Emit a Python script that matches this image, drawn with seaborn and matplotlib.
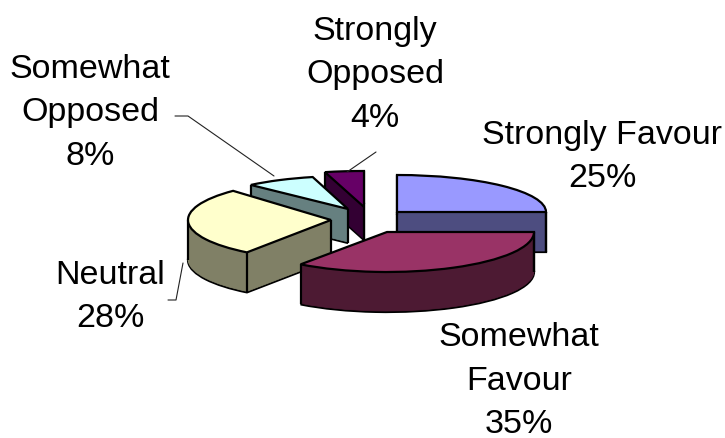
import matplotlib
matplotlib.use('Agg')
import matplotlib.pyplot as plt
from matplotlib.patches import Wedge
from matplotlib.transforms import Affine2D
import numpy as np
import seaborn as sns

categories = ['Strongly Favour', 'Somewhat\nFavour', 'Neutral', 'Somewhat\nOpposed', 'Strongly\nOpposed']
values = [25, 35, 28, 8, 4]
colors = ['#9999FF', '#993366', '#FFFFCC', '#CCFFFF', '#660066']

# ellipse of each slice in picture pixels: cx, cy, rx, ry
shapes = [(397, 212, 149, 37), (387, 232, 147, 40), (331, 220, 143, 40), (348, 209, 142, 33), (364, 207, 157, 36)]
depths = [40, 40, 40, 34, 33]
label_pos = [(602, 157), (519, 381), (110, 297), (90, 113), (375, 75)]
draw_order = [0, 4, 3, 2, 1]

sns.set_theme(style='white')
plt.rcParams['font.family'] = ['Liberation Sans', 'DejaVu Sans']

fig = plt.figure(figsize=(7.25, 4.38), dpi=100)
ax = fig.add_axes([0, 0, 1, 1])

palette = sns.color_palette(colors)
wedges, _ = ax.pie(values, colors=palette, startangle=90, counterclock=False,
                   wedgeprops={'edgecolor': 'black', 'linewidth': 1.6})
ax.set_aspect('auto')
ax.set_xlim(0, 725)
ax.set_ylim(438, 0)
ax.axis('off')

z = 1
for i in draw_order:
    w = wedges[i]
    cx, cy, rx, ry = shapes[i]
    depth = depths[i]
    side = tuple(c * 0.5 for c in palette[i])

    # side of the slice: same wedge stacked downwards
    for dy in range(depth, 0, -1):
        tr = Affine2D().scale(rx, -ry).translate(cx, cy + dy) + ax.transData
        edge = 'black' if dy == depth else side
        lw = 1.6 if dy == depth else 0.5
        ax.add_patch(Wedge((0, 0), 1, w.theta1, w.theta2, facecolor=side, edgecolor=edge,
                           linewidth=lw, transform=tr, zorder=z))
        z += 1

    # upright edges at the corners and outer tangents, back left corners stay hidden
    xs = [cx]
    ys = [cy]
    for a in [w.theta1, w.theta2, -180, 0]:
        if not w.theta1 <= a <= w.theta2:
            continue
        c, s = np.cos(np.radians(a)), np.sin(np.radians(a))
        if a == w.theta1 and c < -0.01 and s > 0:
            continue
        xs.append(cx + rx * c)
        ys.append(cy - ry * s)
    for x, y in zip(xs, ys):
        ax.plot([x, x], [y, y + depth], color='black', lw=1.6, zorder=z, solid_capstyle='butt')
    z += 1

    w.set_transform(Affine2D().scale(rx, -ry).translate(cx, cy) + ax.transData)
    w.set_zorder(z)
    z += 1

# leader lines
ax.plot([175, 188, 274], [116, 116, 176], color='#222222', lw=0.8, zorder=z)
ax.plot([376, 347], [152, 172], color='#222222', lw=0.8, zorder=z)
ax.plot([183, 176, 168], [263, 300, 300], color='#222222', lw=0.8, zorder=z)

for name, v, (x, y) in zip(categories, values, label_pos):
    ax.text(x, y, f'{name}\n{v}%', ha='center', va='center', fontsize=24.5, linespacing=1.52,
            color='black', zorder=z + 1)

fig.savefig('out.png', dpi=100, facecolor='white')
